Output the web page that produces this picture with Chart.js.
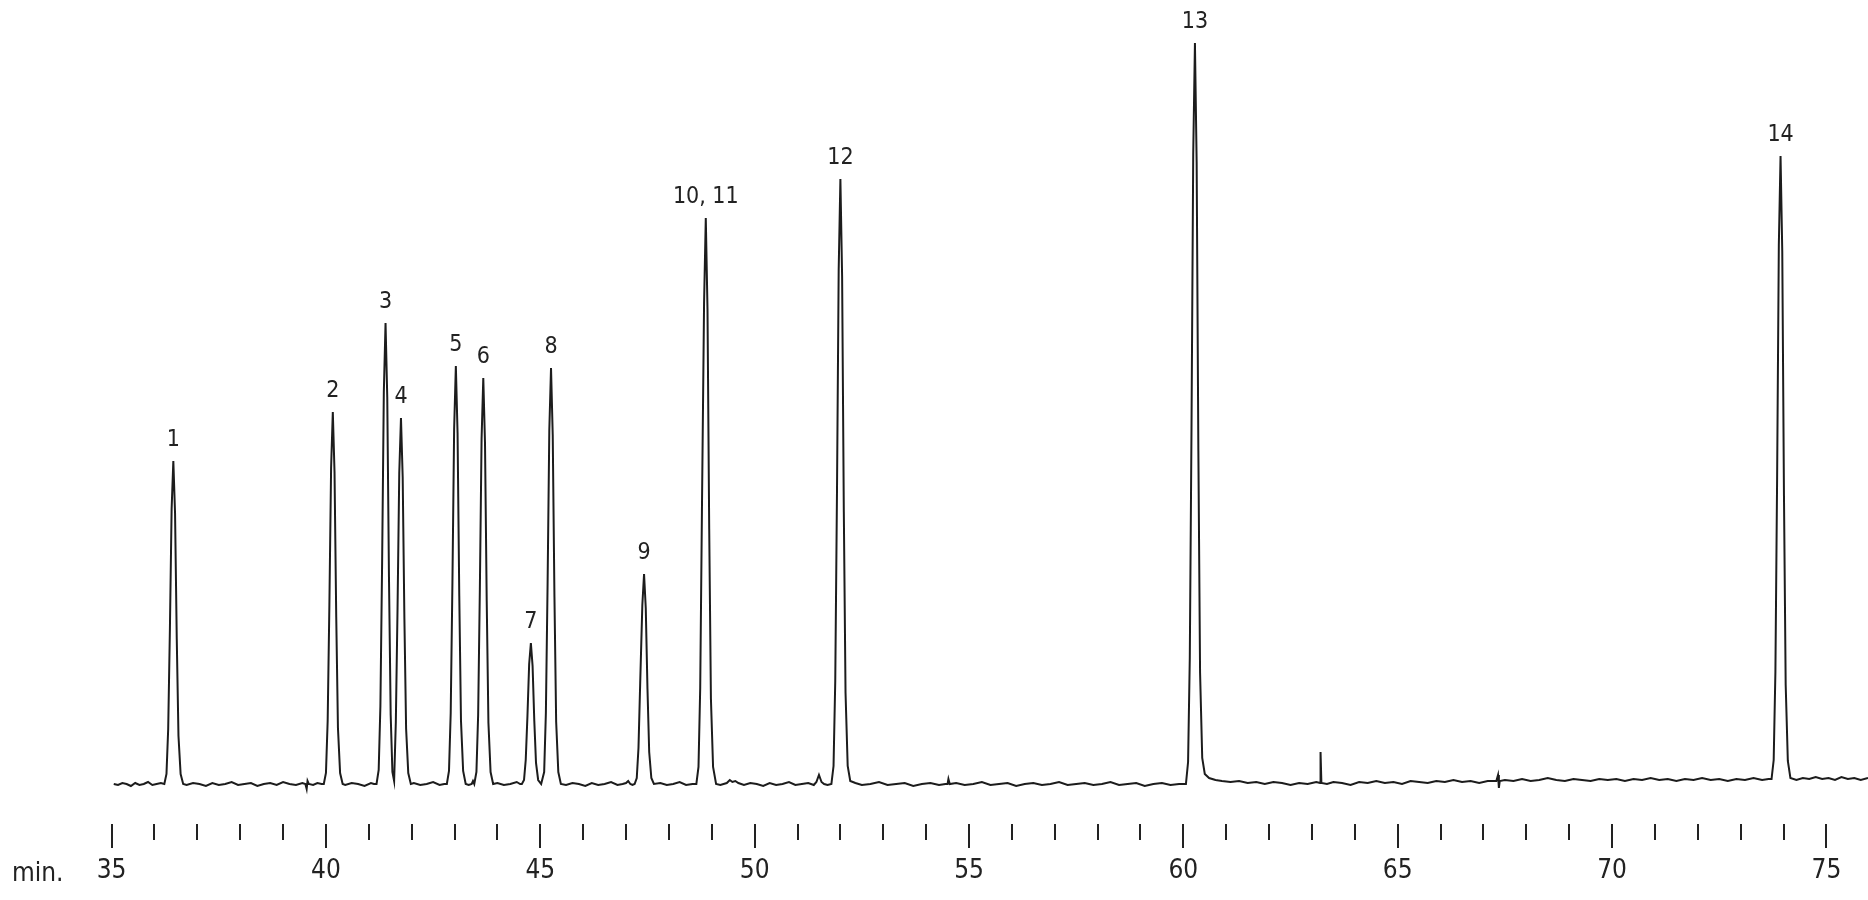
<!DOCTYPE html>
<html>
<head>
<meta charset="utf-8">
<script src="https://cdn.jsdelivr.net/npm/chart.js@4/dist/chart.umd.min.js"></script>
<style>
  body { margin: 0; background: #fff; }
  #gcChart { display: block; }
</style>
</head>
<body>
<canvas id="gcChart" width="1868" height="900"></canvas>
<script>
// 크로마토그램 데이터 (시간[min], 신호) - 그림에서 읽은 값
var trace = [
  [35.05, 0], [35.15, -1], [35.25, 1], [35.35, 0], [35.45, -2], [35.55, 1], [35.65, -1], [35.75, 0], [35.85, 2], [35.95, -1], [36.05, 0], [36.15, 1],
  [36.23, 0], [36.28, 10], [36.32, 55], [36.36, 155], [36.40, 275], [36.44, 323], [36.48, 271], [36.52, 145], [36.56, 48], [36.61, 10], [36.67, 0],
  [36.75, -1], [36.9, 1], [37.05, 0], [37.2, -2], [37.35, 1], [37.5, -1], [37.65, 0], [37.8, 2], [37.95, -1], [38.1, 0], [38.25, 1], [38.4, -2],
  [38.55, 0], [38.7, 1], [38.85, -1], [39.0, 2], [39.15, 0], [39.3, -1], [39.45, 1],
  [39.52, 0], [39.55, -5], [39.57, 3], [39.6, 0], [39.7, -1], [39.8, 1], [39.9, 0],
  [39.95, 0], [40.00, 11], [40.04, 63], [40.08, 179], [40.12, 316], [40.16, 372], [40.20, 312], [40.24, 167], [40.28, 56], [40.33, 11], [40.39, 0],
  [40.45, -1], [40.6, 1], [40.75, 0], [40.9, -2], [41.05, 1], [41.12, 0],
  [41.18, 0], [41.23, 14], [41.27, 78], [41.31, 221], [41.35, 392], [41.39, 461], [41.43, 387], [41.47, 207], [41.51, 69], [41.55, 12], [41.59, 3],
  [41.63, 62], [41.67, 176], [41.71, 311], [41.75, 366], [41.79, 307], [41.83, 165], [41.87, 55], [41.92, 11], [41.98, 0],
  [42.05, 1], [42.2, -1], [42.35, 0], [42.5, 2], [42.65, -1], [42.76, 0],
  [42.82, 0], [42.87, 13], [42.91, 71], [42.95, 201], [42.99, 355], [43.03, 418], [43.07, 351], [43.11, 188], [43.15, 63], [43.20, 13], [43.26, 0],
  [43.33, -1], [43.40, 0], [43.43, 3], [43.46, 0],
  [43.51, 12], [43.55, 69], [43.59, 195], [43.63, 345], [43.67, 406], [43.71, 341], [43.75, 183], [43.79, 61], [43.84, 12], [43.90, 0],
  [44.0, 1], [44.15, -1], [44.3, 0], [44.45, 2], [44.53, 0],
  [44.57, 0], [44.62, 4], [44.66, 24], [44.70, 68], [44.74, 120], [44.78, 141], [44.82, 118], [44.86, 63], [44.90, 21], [44.95, 4], [45.02, 0],
  [45.09, 12], [45.13, 71], [45.17, 200], [45.21, 354], [45.25, 416], [45.29, 349], [45.33, 187], [45.37, 62], [45.42, 12], [45.48, 0],
  [45.6, -1], [45.75, 1], [45.9, 0], [46.05, -2], [46.2, 1], [46.35, -1], [46.5, 0], [46.65, 2], [46.8, -1], [46.92, 0],
  [47.00, 1], [47.05, 3], [47.10, 0], [47.15, -1],
  [47.20, 0], [47.25, 6], [47.29, 36], [47.33, 101], [47.38, 179], [47.42, 210], [47.46, 176], [47.50, 95], [47.54, 32], [47.59, 6], [47.65, 0],
  [47.8, 1], [47.95, -1], [48.1, 0], [48.25, 2], [48.4, -1], [48.55, 0],
  [48.64, 0], [48.69, 17], [48.73, 96], [48.77, 272], [48.82, 481], [48.86, 566], [48.90, 475], [48.94, 255], [48.98, 85], [49.03, 17], [49.10, 0],
  [49.2, -1], [49.35, 1], [49.42, 4], [49.48, 2], [49.55, 3], [49.62, 1], [49.75, -1], [49.9, 1], [50.05, 0], [50.2, -2], [50.35, 1], [50.5, -1],
  [50.65, 0], [50.8, 2], [50.95, -1], [51.1, 0], [51.25, 1], [51.38, -1], [51.44, 2], [51.5, 9], [51.56, 2], [51.62, 0], [51.7, -1],
  [51.79, 0], [51.84, 18], [51.88, 103], [51.92, 290], [51.96, 514], [52.00, 605], [52.04, 508], [52.08, 272], [52.12, 91], [52.17, 18], [52.23, 3], [52.35, 1],
  [52.5, -1], [52.7, 0], [52.9, 2], [53.1, -1], [53.3, 0], [53.5, 1], [53.7, -2], [53.9, 0], [54.1, 1], [54.3, -1], [54.45, 0], [54.5, 0], [54.52, 5], [54.55, 0],
  [54.7, 1], [54.9, -1], [55.1, 0], [55.3, 2], [55.5, -1], [55.7, 0], [55.9, 1], [56.1, -2], [56.3, 0], [56.5, 1], [56.7, -1], [56.9, 0],
  [57.1, 2], [57.3, -1], [57.5, 0], [57.7, 1], [57.9, -1], [58.1, 0], [58.3, 2], [58.5, -1], [58.7, 0], [58.9, 1], [59.1, -2], [59.3, 0],
  [59.5, 1], [59.7, -1], [59.9, 0],
  [60.06, 0], [60.11, 22], [60.15, 126], [60.19, 356], [60.23, 630], [60.27, 741], [60.31, 622], [60.35, 333], [60.39, 111], [60.44, 26],
  [60.50, 10], [60.6, 6], [60.75, 4], [60.9, 3], [61.1, 2], [61.3, 3], [61.5, 1], [61.7, 2], [61.9, 0], [62.1, 2], [62.3, 1], [62.5, -1],
  [62.7, 1], [62.9, 0], [63.1, 2], [63.19, 1], [63.2, 32], [63.22, 1], [63.35, 0], [63.5, 2], [63.7, 1], [63.9, -1], [64.1, 2], [64.3, 1],
  [64.5, 3], [64.7, 1], [64.9, 2], [65.1, 0], [65.3, 3], [65.5, 2], [65.7, 1], [65.9, 3], [66.1, 2], [66.3, 4], [66.5, 2], [66.7, 3],
  [66.9, 1], [67.1, 3], [67.3, 3], [67.34, 9], [67.36, -4], [67.38, 3], [67.5, 4], [67.7, 3], [67.9, 5], [68.1, 3], [68.3, 4], [68.5, 6],
  [68.7, 4], [68.9, 3], [69.1, 5], [69.3, 4], [69.5, 3], [69.7, 5], [69.9, 4], [70.1, 5], [70.3, 3], [70.5, 5], [70.7, 4], [70.9, 6],
  [71.1, 4], [71.3, 5], [71.5, 3], [71.7, 5], [71.9, 4], [72.1, 6], [72.3, 4], [72.5, 5], [72.7, 3], [72.9, 5], [73.1, 4], [73.3, 6],
  [73.5, 4], [73.65, 5],
  [73.72, 5], [73.77, 24], [73.81, 112], [73.85, 306], [73.89, 539], [73.93, 628], [73.97, 533], [74.01, 288], [74.05, 99], [74.10, 23], [74.16, 6],
  [74.3, 4], [74.45, 6], [74.6, 5], [74.75, 7], [74.9, 5], [75.05, 6], [75.2, 4], [75.35, 7], [75.5, 5], [75.65, 6], [75.8, 4], [75.97, 6]
];

// 피크 번호와 위치
var peakNames = ['1', '2', '3', '4', '5', '6', '7', '8', '9', '10, 11', '12', '13', '14'];
var peakTimes = [36.44, 40.16, 41.39, 41.75, 43.03, 43.67, 44.78, 45.25, 47.42, 48.86, 52.00, 60.27, 73.93];
var peakHeights = [323, 372, 461, 366, 418, 406, 141, 416, 210, 566, 605, 741, 628];

// x축 눈금
var xMin = 35;
var xMax = 75.97;
var majorStep = 5;

var fontFamily = '"Liberation Sans Narrow", "DejaVu Sans Condensed", "Roboto Condensed", sans-serif';

// 피크 번호, 눈금, "min." 글자를 그리는 플러그인
var gcPlugin = {
  id: 'gcPlugin',
  afterDraw: function(chart) {
    var ctx = chart.ctx;
    var xs = chart.scales.x;
    var ys = chart.scales.y;
    var bottom = chart.chartArea.bottom;
    ctx.save();
    // 눈금
    ctx.strokeStyle = '#222';
    ctx.lineWidth = 2;
    xs.ticks.forEach(function(t) {
      if (Math.abs(t.value - Math.round(t.value)) > 1e-6) return;
      var px = Math.round(xs.getPixelForValue(t.value));
      var len = (Math.round(t.value) % majorStep === 0) ? 24 : 16;
      ctx.beginPath();
      ctx.moveTo(px, bottom);
      ctx.lineTo(px, bottom + len);
      ctx.stroke();
    });
    // 피크 번호
    ctx.fillStyle = '#222';
    ctx.font = '23px ' + fontFamily;
    ctx.textAlign = 'center';
    ctx.textBaseline = 'alphabetic';
    for (var i = 0; i < peakNames.length; i++) {
      ctx.fillText(peakNames[i], xs.getPixelForValue(peakTimes[i]), ys.getPixelForValue(peakHeights[i]) - 15);
    }
    // min.
    ctx.font = '26px ' + fontFamily;
    ctx.textAlign = 'left';
    ctx.fillText('min.', 12, bottom + 57);
    ctx.restore();
  }
};

var ctx = document.getElementById('gcChart');
var gcChart = new Chart(ctx, {
  type: 'line',
  data: {
    datasets: [{
      data: trace.map(function(p) { return { x: p[0], y: p[1] }; }),
      borderColor: '#1c1c1c',
      borderWidth: 2,
      pointRadius: 0,
      tension: 0,
      fill: false
    }]
  },
  options: {
    responsive: false,
    animation: false,
    layout: { padding: { left: 111.6, right: 0, top: 0, bottom: 0 } },
    plugins: {
      legend: { display: false },
      tooltip: { enabled: false }
    },
    scales: {
      x: {
        type: 'linear',
        bounds: 'data',
        min: xMin,
        max: xMax,
        grid: { display: false, drawTicks: true, tickLength: 31 },
        border: { display: false },
        afterFit: function(scale) { scale.height = 76; },
        ticks: {
          stepSize: 1,
          autoSkip: false,
          includeBounds: false,
          maxRotation: 0,
          padding: 1,
          color: '#222',
          font: { family: fontFamily, size: 26 },
          callback: function(v) { return (v % majorStep === 0) ? String(v) : ''; }
        }
      },
      y: {
        display: false,
        min: -40,
        max: 784
      }
    }
  },
  plugins: [gcPlugin]
});
</script>
</body>
</html>
